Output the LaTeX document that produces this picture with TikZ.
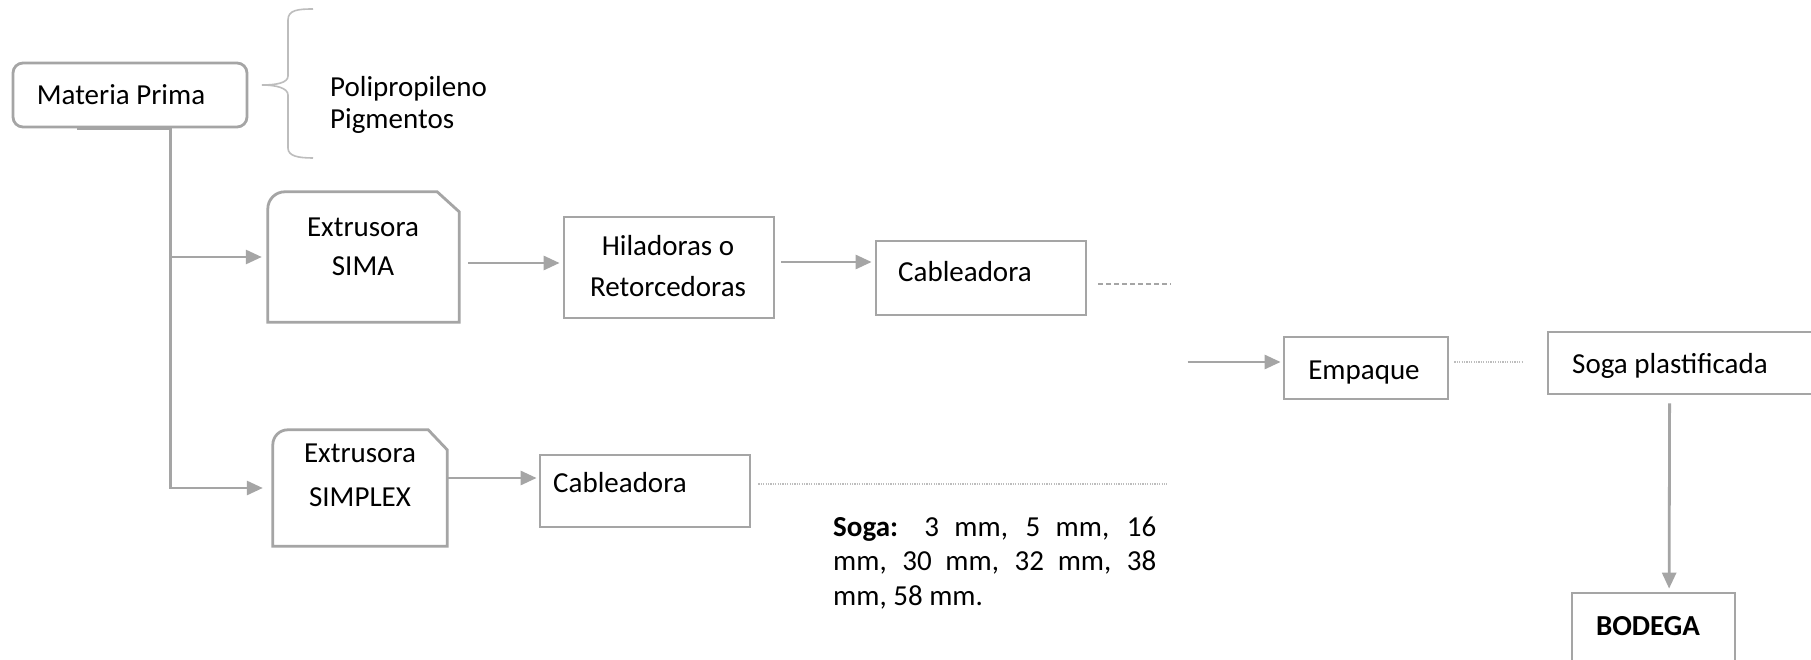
\documentclass[tikz,border=0pt]{standalone}
\usepackage{fontspec}
\setmainfont{Carlito}
\usetikzlibrary{arrows.meta,calc}
\definecolor{bx}{HTML}{A5A5A5}
\definecolor{lt}{HTML}{BDBDBD}
\begin{document}
\begin{tikzpicture}[x=1pt,y=-1pt,
  txt/.style={font=\fontsize{29}{35}\selectfont, inner sep=0pt, anchor=base},
  txtl/.style={txt, anchor=base west},
  box/.style={draw=bx, line width=2.8pt, inner sep=0pt},
  hold/.style={draw=none, inner sep=0pt},
  outline/.style={draw=bx, line width=2.8pt, line join=miter},
  arr/.style={draw=bx, line width=2.8pt, -{Triangle[length=16pt,width=14pt]}},
  plain/.style={draw=bx, line width=2.8pt},
  dashline/.style={draw=bx, line width=1.5pt, dash pattern=on 5pt off 3pt},
  dotline/.style={draw=lt, line width=1.3pt, dash pattern=on 1.2pt off 1.2pt},
  bracestyle/.style={draw=lt, line width=1.6pt}
]
\clip (0,0) rectangle (1811,660);
\fill[white] (0,0) rectangle (1811,660);

% Materia Prima
\node[box, rounded corners=10pt, minimum width=234pt, minimum height=64pt] (mp) at (130,95) {};
\node[txt] at (121,105) {Materia Prima};

% brace
\draw[bracestyle] (313,9) .. controls (298,9) and (288,10) .. (288,20) -- (288,76)
  .. controls (288,83) and (276,85) .. (262,85)
  .. controls (276,85) and (288,88) .. (288,95) -- (288,148)
  .. controls (288,156) and (298,158) .. (313,158);
\node[txtl] at (330,97) {Polipropileno};
\node[txtl] at (330,129) {Pigmentos};

% Extrusora SIMA
\node[hold, minimum width=191pt, minimum height=130pt] (ex1) at (363.5,257) {};
\draw[outline] (ex1.south west) -- ($(ex1.north west)+(0,17)$)
  .. controls ($(ex1.north west)+(0,7.6)$) and ($(ex1.north west)+(7.6,0)$) .. ($(ex1.north west)+(17,0)$)
  -- ($(ex1.north east)+(-22,0)$) -- ($(ex1.north east)+(0,20)$) -- (ex1.south east) -- cycle;
\node[txt] at (363,237) {Extrusora};
\node[txt] at (363,275) {SIMA};

% Extrusora SIMPLEX
\node[hold, minimum width=174pt, minimum height=116pt] (ex2) at (360,488) {};
\draw[outline] (ex2.south west) -- ($(ex2.north west)+(0,15)$)
  .. controls ($(ex2.north west)+(0,6.7)$) and ($(ex2.north west)+(6.7,0)$) .. ($(ex2.north west)+(15,0)$)
  -- ($(ex2.north east)+(-19,0)$) -- ($(ex2.north east)+(0,20)$) -- (ex2.south east) -- cycle;
\node[txt] at (360,462) {Extrusora};
\node[txt] at (360,506) {SIMPLEX};

% Hiladoras
\node[box, minimum width=210pt, minimum height=101pt] (hil) at (669,267.5) {};
\node[txt] at (668,256) {Hiladoras o};
\node[txt] at (668,296) {Retorcedoras};

% Cableadora 1
\node[box, minimum width=210pt, minimum height=74pt] (cab1) at (981,278) {};
\node[txtl] at (898,281) {Cableadora};

% Cableadora 2
\node[box, minimum width=210pt, minimum height=72pt] (cab2) at (645,491) {};
\node[txtl] at (553,492) {Cableadora};

% Empaque
\node[box, minimum width=164pt, minimum height=62pt] (emp) at (1366,368) {};
\node[txt] at (1364,379) {Empaque};

% Soga plastificada
\node[box, minimum width=290pt, minimum height=62pt] (soga) at (1693,363) {};
\node[txtl] at (1572,373) {Soga plastificada};

% Bodega
\node[box, minimum width=163pt, minimum height=100pt] (bod) at (1653.5,643) {};
\node[txt, font=\fontsize{29}{35}\selectfont\bfseries] at (1648,635) {BODEGA};

% Soga text
\node[anchor=base west, inner sep=0pt] at (833,536) {\parbox[t]{323pt}{\fontsize{29}{34.5}\selectfont
  \textbf{Soga:} 3 mm, 5 mm, 16\linebreak mm, 30 mm, 32 mm, 38\linebreak mm, 58 mm.}};

% connectors
\coordinate (mpstart) at ($(mp.south west)+(65,0)$);
\coordinate (trunk) at ($(mp.south west)+(159,0)$);
\draw[plain] (mpstart) -- (trunk);
\draw[arr, shorten >=10pt] (trunk) |- (ex2.west);
\draw[arr, shorten >=6pt] (trunk |- ex1.west) -- (ex1.west);
\draw[arr] ($(ex1.east)+(9,6)$) -- ($(hil.west)+(-3,-4.5)$);
\draw[arr] ($(hil.east)+(6,-5.5)$) -- ($(cab1.west)+(-3,-16)$);
\coordinate (cab1end) at ($(cab1.east)+(84,6)$);
\draw[dashline] ($(cab1.east)+(11,6)$) -- (cab1end);
\coordinate (empin) at ($(emp.west)+(-95,-6)$);
\draw[arr] (empin) -- ($(emp.west)+(-2,-6)$);
\draw[dotline] ($(emp.east)+(5,-6)$) -- ($(soga.west)+(-23,-1)$);
\draw[arr] ($(ex2.east)+(-1,-10)$) -- ($(cab2.west)+(-2,-13)$);
\coordinate (cab2end) at ($(cab2.east)+(416,-7)$);
\draw[dotline] ($(cab2.east)+(7,-7)$) -- (cab2end);
\draw[arr] ($(soga.south west)+(123,8)$) -- ($(bod.north west)+(98.5,-3)$);
\end{tikzpicture}
\end{document}
